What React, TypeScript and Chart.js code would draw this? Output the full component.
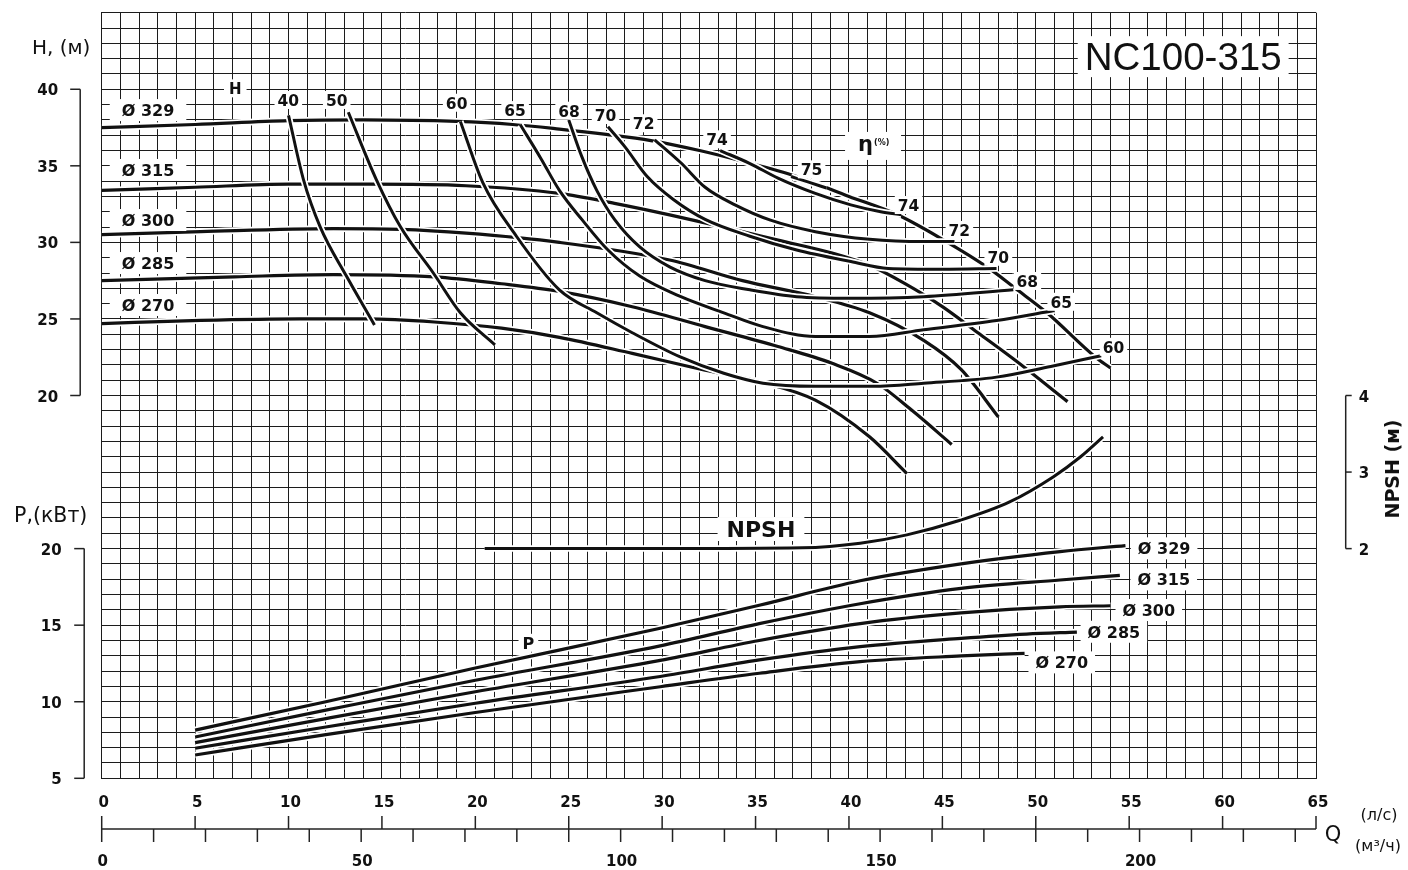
import React, { useEffect, useRef } from "react";
import { Chart, registerables } from "chart.js";
Chart.register(...registerables);

// ---------------- ticks / labels ----------------
const qTicks = [0, 5, 10, 15, 20, 25, 30, 35, 40, 45, 50, 55, 60, 65];
const m3hLabels = [0, 50, 100, 150, 200];
const m3hMinor = [0, 10, 20, 30, 40, 50, 60, 70, 80, 90, 100, 110, 120, 130, 140, 150, 160, 170, 180, 190, 200, 210, 220, 230];
const hTicks = [40, 35, 30, 25, 20];
const pTicks = [20, 15, 10, 5];
const npshTicks = [4, 3, 2];
const diameterNames = ["Ø 329", "Ø 315", "Ø 300", "Ø 285", "Ø 270"];
const title = "NC100-315";

// ---------------- H(Q) curves, m ----------------
const qH329 = [0, 5, 10, 14, 19, 22, 24.5, 27, 29.4, 32, 34.3, 37.2, 40, 42.6, 45, 47.5, 48.9, 50.6, 53.2, 54];
const hH329 = [37.5, 37.7, 37.95, 38.0, 37.9, 37.7, 37.4, 37.05, 36.65, 36.0, 35.3, 34.3, 33.0, 31.8, 30.2, 28.3, 27.0, 25.4, 22.5, 21.8];
const qH315 = [0, 5, 10, 14.3, 19.5, 24.5, 27.45, 30.4, 33.3, 36.2, 39.1, 41.1, 43.0, 45.0, 46.9, 48.9, 51.7];
const hH315 = [33.4, 33.6, 33.8, 33.8, 33.7, 33.2, 32.55, 31.8, 31.0, 30.15, 29.3, 28.5, 27.3, 25.8, 24.1, 22.3, 19.6];
const qH300 = [0, 5.3, 12.4, 16, 19.5, 24.5, 30.4, 34.3, 38.2, 41.1, 44.0, 46.0, 48.0];
const hH300 = [30.5, 30.7, 30.9, 30.85, 30.6, 30.0, 28.85, 27.5, 26.45, 25.4, 23.6, 21.7, 18.6];
const qH285 = [0, 7.1, 12.4, 17.8, 21.4, 24.5, 28.4, 32.3, 36.2, 39.1, 41.5, 43.4, 45.5];
const hH285 = [27.5, 27.75, 27.9, 27.75, 27.3, 26.8, 25.8, 24.5, 23.2, 22.1, 20.8, 19.0, 16.8];
const qH270 = [0, 5.3, 10.6, 14.2, 17.8, 21.4, 24.5, 28.4, 32.3, 35.2, 38.2, 41.1, 43.1];
const hH270 = [24.7, 24.9, 25.0, 25.0, 24.8, 24.4, 23.8, 22.75, 21.65, 20.9, 19.7, 17.3, 14.9];

// ---------------- iso-efficiency curves (η %) ----------------
const qE40 = [10.0, 10.8, 11.7, 13.1, 14.6];
const hE40 = [38.3, 34.1, 31.0, 27.8, 24.6];
const qE50 = [13.2, 14.7, 16.0, 17.75, 19.2, 21.05];
const hE50 = [38.5, 34.1, 31.0, 28.0, 25.4, 23.3];
const qE60 = [19.2, 20.4, 22.2, 24.5, 26.5, 28.4, 31.0, 33.3, 35.4, 38.2, 41.3, 44.0, 47.9, 50.8, 53.5];
const hE60 = [37.9, 33.9, 30.4, 26.9, 25.4, 24.1, 22.5, 21.45, 20.8, 20.6, 20.6, 20.8, 21.2, 21.9, 22.6];
const qE65 = [22.4, 23.5, 24.5, 25.7, 27.1, 28.8, 31.0, 33.3, 35.4, 38.2, 41.1, 44.0, 47.9, 51.0];
const hE65 = [37.7, 35.5, 33.4, 31.5, 29.5, 27.8, 26.45, 25.4, 24.5, 23.85, 23.85, 24.3, 24.9, 25.55];
const qE68 = [25.0, 25.7, 26.5, 27.45, 28.8, 30.4, 32.3, 34.7, 37.2, 40.1, 44.0, 48.8];
const hE68 = [38.0, 35.6, 33.4, 31.5, 29.7, 28.4, 27.5, 26.9, 26.45, 26.35, 26.45, 26.9];
const qE70 = [27.1, 28.0, 29.2, 30.6, 32.3, 34.7, 37.2, 40.1, 42.1, 45.0, 47.9];
const hE70 = [37.55, 36.25, 34.3, 32.8, 31.5, 30.4, 29.5, 28.75, 28.3, 28.25, 28.3];
const qE72 = [29.6, 31.0, 32.3, 33.9, 35.8, 38.2, 41.1, 44.0, 45.65];
const hE72 = [36.7, 35.2, 33.6, 32.45, 31.45, 30.7, 30.2, 30.05, 30.05];
const qE74 = [33.1, 34.7, 36.2, 38.2, 40.1, 41.7, 42.8];
const hE74 = [36.0, 35.15, 34.2, 33.2, 32.45, 32.0, 31.8];
const qE75 = [36.9, 37.8, 38.8];
const hE75 = [34.3, 33.95, 33.55];

// ---------------- P(Q) curves, kW ----------------
const qP329 = [5, 12, 20, 29.9, 35.2, 40.6, 46.0, 51.3, 54.8];
const pP329 = [8.15, 10.0, 12.2, 14.8, 16.3, 17.9, 19.0, 19.8, 20.2];
const qP315 = [5, 12, 20, 29.9, 35.2, 40.6, 46.0, 51.3, 54.5];
const pP315 = [7.7, 9.45, 11.4, 13.65, 15.1, 16.4, 17.4, 17.95, 18.25];
const qP300 = [5, 12, 20, 29.9, 35.2, 40.6, 46.0, 51.3, 54.0];
const pP300 = [7.33, 8.9, 10.65, 12.7, 14.0, 15.1, 15.8, 16.2, 16.27];
const qP285 = [5, 12, 20, 29.9, 35.2, 40.6, 46.0, 49.5, 52.2];
const pP285 = [6.96, 8.35, 9.9, 11.65, 12.73, 13.6, 14.14, 14.42, 14.55];
const qP270 = [5, 12, 20, 29.9, 35.2, 40.6, 46.0, 49.4];
const pP270 = [6.52, 7.85, 9.3, 10.98, 11.86, 12.62, 12.99, 13.16];

// ---------------- NPSH(Q), m ----------------
const qNPSH = [20.5, 25, 30, 37.5, 40.6, 43.1, 45.95, 48.6, 50.95, 52.4, 53.6];
const vNPSH = [2.0, 2.0, 2.0, 2.01, 2.07, 2.18, 2.37, 2.61, 2.94, 3.2, 3.46];

// common vertical scale: H in m; P drawn as P-10; NPSH drawn as 10+5*(N-2)
const fromH = (h: number) => h;
const fromP = (p: number) => p - 10;
const fromN = (n: number) => 10 + 5 * (n - 2);

const INK = "#111111";
const NUM = '"DejaVu Sans", sans-serif';

function pts(qs: number[], vs: number[], f: (v: number) => number) {
  return qs.map((q, i) => ({ x: q, y: f(vs[i]) }));
}

function buildDatasets() {
  const curves: { data: { x: number; y: number }[]; w: number }[] = [];
  const H = [[qH329, hH329], [qH315, hH315], [qH300, hH300], [qH285, hH285], [qH270, hH270]];
  H.forEach(([q, h]) => curves.push({ data: pts(q, h, fromH), w: 3.2 }));
  const E = [[qE40, hE40], [qE50, hE50], [qE60, hE60], [qE65, hE65], [qE68, hE68], [qE70, hE70], [qE72, hE72], [qE74, hE74], [qE75, hE75]];
  E.forEach(([q, h]) => curves.push({ data: pts(q, h, fromH), w: 3 }));
  const P = [[qP270, pP270], [qP285, pP285], [qP300, pP300], [qP315, pP315], [qP329, pP329]];
  P.forEach(([q, p]) => curves.push({ data: pts(q, p, fromP), w: 3.2 }));
  curves.push({ data: pts(qNPSH, vNPSH, fromN), w: 3 });

  const ds: any[] = [];
  curves.forEach((c) => {
    const base = {
      data: c.data,
      pointRadius: 0,
      fill: false,
      cubicInterpolationMode: "monotone",
      borderJoinStyle: "round",
      borderCapStyle: "butt",
    };
    ds.push({ ...base, borderColor: "#ffffff", borderWidth: c.w + 3.5 });
    ds.push({ ...base, borderColor: INK, borderWidth: c.w });
  });
  const n = ds.length;
  ds.forEach((d, i) => (d.order = n - i));
  return ds;
}

function centerText(ctx: CanvasRenderingContext2D, t: string, x: number, cy: number, align: CanvasTextAlign) {
  const m = ctx.measureText(t);
  ctx.textAlign = align;
  ctx.textBaseline = "alphabetic";
  ctx.fillText(t, x, cy + (m.actualBoundingBoxAscent - m.actualBoundingBoxDescent) / 2);
}

function boxLabel(ctx: CanvasRenderingContext2D, t: string, cx: number, cy: number, font: string, padX: number, padY: number) {
  ctx.font = font;
  const m = ctx.measureText(t);
  const w = m.width;
  const hgt = m.actualBoundingBoxAscent + m.actualBoundingBoxDescent;
  ctx.fillStyle = "#ffffff";
  ctx.fillRect(cx - w / 2 - padX, cy - hgt / 2 - padY, w + 2 * padX, hgt + 2 * padY);
  ctx.fillStyle = INK;
  centerText(ctx, t, cx, cy, "center");
}

const overlay = {
  id: "overlay",
  afterDatasetsDraw(chart: any) {
    const ctx: CanvasRenderingContext2D = chart.ctx;
    const xs = chart.scales.x, ys = chart.scales.y;
    const X = (q: number) => xs.getPixelForValue(q);
    const Y = (v: number) => ys.getPixelForValue(v);
    ctx.save();
    const dFont = `bold 16px ${NUM}`;
    const nFont = `bold 15.5px ${NUM}`;
    // diameter labels (H)
    const leftV = [38.64, 34.73, 31.46, 28.65, 25.91];
    diameterNames.forEach((d, i) => boxLabel(ctx, d, X(2.48), Y(leftV[i]), dFont, 12, 4));
    boxLabel(ctx, "H", X(7.15), Y(40.06), `bold 15px ${NUM}`, 5, 3);
    // efficiency labels
    const effTop: [string, number, number][] = [
      ["40", 9.99, 39.3], ["50", 12.58, 39.3], ["60", 19.0, 39.12], ["65", 22.13, 38.64],
      ["68", 25.02, 38.6], ["70", 26.97, 38.32], ["72", 29.01, 37.78], ["74", 32.94, 36.73], ["75", 38.0, 34.77],
      ["74", 43.19, 32.44], ["72", 45.91, 30.81], ["70", 47.99, 29.06], ["68", 49.55, 27.48], ["65", 51.36, 26.12], ["60", 54.16, 23.18],
    ];
    effTop.forEach(([t, q, v]) => boxLabel(ctx, t, X(q), Y(v), nFont, 3, 3));
    // eta label
    {
      const cx = X(41.29), cy = Y(36.3);
      ctx.fillStyle = "#fff";
      ctx.fillRect(cx - 28, cy - 14, 56, 28);
      ctx.fillStyle = INK;
      ctx.font = `bold 21px ${NUM}`;
      ctx.textAlign = "left";
      ctx.textBaseline = "alphabetic";
      ctx.fillText("η", cx - 15, cy + 5);
      ctx.font = `bold 8px ${NUM}`;
      ctx.fillText("(%)", cx + 1, cy - 1);
    }
    // title
    boxLabel(ctx, title, X(57.89), Y(42.13), '38.5px "Liberation Sans", Arial, sans-serif', 7, 7);
    // NPSH, P
    boxLabel(ctx, "NPSH", X(35.29), Y(11.28), `bold 22px ${NUM}`, 9, 4);
    boxLabel(ctx, "P", X(22.84), Y(3.85), `bold 16px ${NUM}`, 4, 3);
    const pq = [56.87, 56.85, 56.05, 54.18, 51.39];
    const pv = [10.02, 7.99, 5.99, 4.57, 2.57];
    diameterNames.forEach((d, i) => boxLabel(ctx, d, X(pq[i]), Y(pv[i]), dFont, 7, 4));
    ctx.restore();
  },
  afterDraw(chart: any) {
    const ctx: CanvasRenderingContext2D = chart.ctx;
    const a = chart.chartArea;
    const xs = chart.scales.x, ys = chart.scales.y;
    const X = (q: number) => xs.getPixelForValue(q);
    const Y = (v: number) => ys.getPixelForValue(v);
    const line = (x1: number, y1: number, x2: number, y2: number) => {
      ctx.beginPath();
      ctx.moveTo(x1, y1);
      ctx.lineTo(x2, y2);
      ctx.stroke();
    };
    ctx.save();
    ctx.strokeStyle = "#222222";
    ctx.lineWidth = 1.5;
    ctx.fillStyle = INK;
    const tFont = `bold 15px ${NUM}`;
    // H axis
    const hx = a.left - 21.5;
    line(hx, Y(fromH(40)), hx, Y(fromH(20)));
    ctx.font = tFont;
    hTicks.forEach((h) => {
      const y = Y(fromH(h));
      line(hx - 10, y, hx, y);
      centerText(ctx, String(h), a.left - 43.5, y, "right");
    });
    ctx.font = `20px ${NUM}`;
    centerText(ctx, "H, (м)", a.left - 40.5, Y(fromH(40)) - 41, "center");
    // P axis
    const px = a.left - 17.5;
    line(px, Y(fromP(20)), px, Y(fromP(5)));
    ctx.font = tFont;
    pTicks.forEach((p) => {
      const y = Y(fromP(p));
      line(px - 10, y, px, y);
      centerText(ctx, String(p), a.left - 40, y, "right");
    });
    ctx.font = `20.5px ${NUM}`;
    centerText(ctx, "P,(кВт)", a.left - 51, Y(fromP(20)) - 33, "center");
    // NPSH axis
    const nx = a.right + 29.7;
    line(nx, Y(fromN(4)), nx, Y(fromN(2)));
    ctx.font = tFont;
    npshTicks.forEach((n) => {
      const y = Y(fromN(n));
      line(nx, y, nx + 6, y);
      centerText(ctx, String(n), nx + 13, y, "left");
    });
    ctx.save();
    ctx.translate(a.right + 77, Y(fromN(3)) - 3);
    ctx.rotate(-Math.PI / 2);
    ctx.font = `bold 19px ${NUM}`;
    centerText(ctx, "NPSH (м)", 0, 0, "center");
    ctx.restore();
    // Q axes
    const by = a.bottom + 50.7;
    line(X(0), by, X(65), by);
    ctx.font = tFont;
    qTicks.forEach((q) => {
      const x = X(q);
      line(x, by - 13, x, by);
      centerText(ctx, String(q), x + 2, a.bottom + 22.7, "center");
    });
    m3hMinor.forEach((m) => {
      const x = X(m / 3.6);
      line(x, by, x, by + 13);
    });
    m3hLabels.forEach((m) => centerText(ctx, String(m), X(m / 3.6) + 1, a.bottom + 82, "center"));
    ctx.font = `21px ${NUM}`;
    centerText(ctx, "Q", a.right + 17, a.bottom + 56, "center");
    ctx.font = `16px ${NUM}`;
    centerText(ctx, "(л/с)", a.right + 63, a.bottom + 37, "center");
    centerText(ctx, "(м³/ч)", a.right + 62, a.bottom + 68, "center");
    ctx.restore();
  },
};

export default function App() {
  const ref = useRef<HTMLCanvasElement | null>(null);
  useEffect(() => {
    document.body.style.margin = "0";
    const canvas = ref.current;
    if (!canvas) return;
    const gridColor = "#1c1c1c";
    const chart = new Chart(canvas, {
      type: "line",
      data: { datasets: buildDatasets() },
      options: {
        animation: false,
        responsive: false,
        maintainAspectRatio: false,
        events: [],
        layout: { padding: { left: 101.7, top: 12.7, right: 92, bottom: 91.7 } },
        plugins: { legend: { display: false }, tooltip: { enabled: false }, title: { display: false } },
        scales: {
          x: {
            type: "linear",
            min: 0,
            max: 65,
            ticks: { display: false, stepSize: 1, autoSkip: false, maxTicksLimit: 200 },
            grid: { color: gridColor, lineWidth: 1, drawTicks: false },
            border: { display: true, color: gridColor, width: 1 },
          },
          y: {
            type: "linear",
            min: -5,
            max: 45,
            ticks: { display: false, stepSize: 1, autoSkip: false, maxTicksLimit: 200 },
            grid: { color: gridColor, lineWidth: 1, drawTicks: false },
            border: { display: true, color: gridColor, width: 1 },
          },
        },
      } as any,
      plugins: [overlay as any],
    });
    return () => chart.destroy();
  }, []);
  return (
    <div style={{ width: 1408, height: 870, background: "#fff" }}>
      <canvas ref={ref} width={1408} height={870} style={{ display: "block", width: 1408, height: 870 }} />
    </div>
  );
}
